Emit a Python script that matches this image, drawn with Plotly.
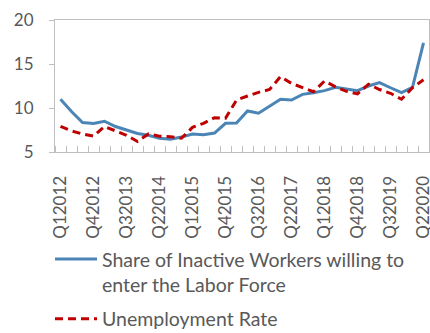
import plotly.graph_objects as go

quarters = [f"Q{q}{y}" for y in range(2012, 2021) for q in range(1, 5)][:34]
share_inactive = [11.0, 9.6, 8.35, 8.25, 8.5, 7.9, 7.5, 7.1, 6.9, 6.55, 6.45, 6.7, 7.05, 6.95, 7.15,
                  8.26, 8.3, 9.66, 9.4, 10.2, 11.0, 10.9, 11.55, 11.74, 11.97, 12.35, 12.16, 11.97,
                  12.5, 12.88, 12.3, 11.74, 12.35, 17.4]
unemployment = [7.9, 7.4, 7.05, 6.8, 7.9, 7.4, 6.9, 6.2, 7.05, 6.8, 6.74, 6.56, 7.8, 8.26, 8.9,
                8.83, 10.9, 11.36, 11.78, 12.1, 13.56, 12.8, 12.35, 11.85, 13.07, 12.4, 11.9, 11.6,
                12.7, 12.1, 11.67, 11.0, 12.3, 13.2]
y_ticks = [5, 10, 15, 20]

x = list(range(len(quarters)))
gray = "#595959"
font_family = "Lato, 'Open Sans', sans-serif"

fig = go.Figure()
fig.add_trace(go.Scatter(x=x, y=share_inactive, mode="lines", legendgroup="a",
                         name="Share of Inactive Workers willing to<br>enter the Labor Force",
                         line=dict(color="#4A85B5", width=3)))
fig.add_trace(go.Scatter(x=x, y=unemployment, mode="lines", name="Unemployment Rate",
                         legendgroup="b",
                         line=dict(color="#C00000", width=3, dash="8px,5px")))

fig.update_layout(
    width=430, height=333,
    margin=dict(l=55, r=1, t=20, b=181, autoexpand=False),
    paper_bgcolor="white", plot_bgcolor="white",
    font=dict(family=font_family, size=17, color=gray),
    legend=dict(orientation="v", x=-0.0134, xanchor="left", y=-0.665, yanchor="top",
                valign="top", font=dict(size=19.5, color=gray), tracegroupgap=6,
                itemwidth=42, bgcolor="rgba(0,0,0,0)"),
    showlegend=True,
)
fig.update_xaxes(range=[-0.5, len(quarters) - 0.5], automargin=False,
                 tickmode="array", tickvals=x[::3], ticktext=quarters[::3],
                 tickangle=-90, ticks="", showgrid=False, zeroline=False,
                 showline=True, linecolor="#BFBFBF", linewidth=1, mirror=True,
                 ticklabelstandoff=16, ticklabeloverflow="allow",
                 tickfont=dict(size=17, color=gray),
                 minor=dict(tickmode="linear", tick0=-0.5, dtick=1, ticks="inside",
                            ticklen=6, tickcolor="#BFBFBF", showgrid=False))
fig.update_yaxes(range=[5, 20], tickmode="array", tickvals=y_ticks, automargin=False,
                 ticks="outside", ticklen=5, tickcolor="#BFBFBF", showgrid=False,
                 zeroline=False, showline=True, linecolor="#BFBFBF", linewidth=1, mirror=True,
                 ticklabelstandoff=12, tickfont=dict(size=17, color=gray))

fig.write_html("out.html")
